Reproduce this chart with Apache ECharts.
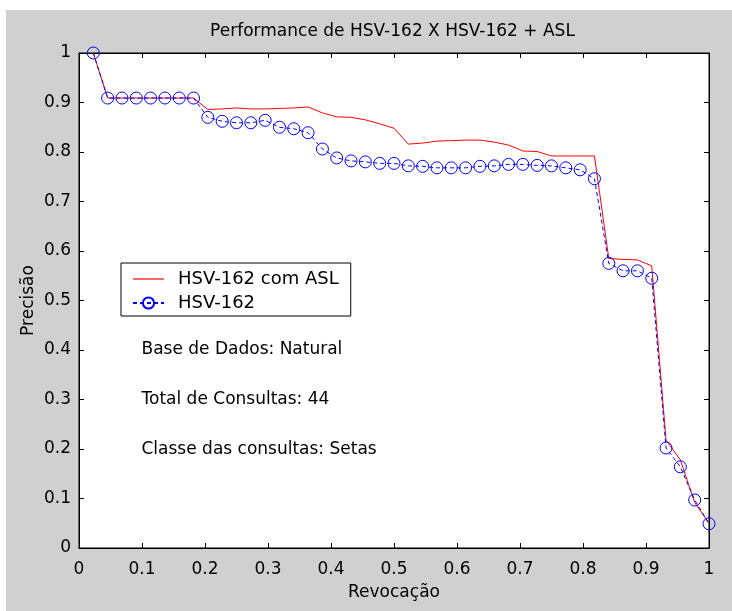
<!DOCTYPE html>
<html>
<head>
<meta charset="utf-8">
<script src="https://cdn.jsdelivr.net/npm/echarts@6/dist/echarts.min.js"></script>
<style>
  html, body { margin: 0; padding: 0; background: #ffffff; }
  #chart { position: absolute; left: 6px; top: 10px; width: 726px; height: 601px; }
</style>
</head>
<body>
<div id="chart"></div>
<script>
// Recall points (Revocação) shared by both curves
const recall = [
  0.0227, 0.0455, 0.0682, 0.0909, 0.1136, 0.1364, 0.1591, 0.1818, 0.2045, 0.2273, 0.25,
  0.2727, 0.2955, 0.3182, 0.3409, 0.3636, 0.3864, 0.4091, 0.4318, 0.4545, 0.4773, 0.5,
  0.5227, 0.5455, 0.5682, 0.5909, 0.6136, 0.6364, 0.6591, 0.6818, 0.7045, 0.7273, 0.75,
  0.7727, 0.7955, 0.8182, 0.8409, 0.8636, 0.8864, 0.9091, 0.9318, 0.9545, 0.9773, 1.0
];
// Precision – HSV-162 com ASL (red solid)
const precisionASL = [
  1.000, 0.909, 0.909, 0.909, 0.909, 0.909, 0.909, 0.909, 0.886, 0.887, 0.889,
  0.887, 0.887, 0.888, 0.889, 0.891, 0.879, 0.871, 0.870, 0.865, 0.857, 0.848,
  0.816, 0.818, 0.822, 0.823, 0.824, 0.824, 0.820, 0.814, 0.802, 0.801, 0.792,
  0.792, 0.792, 0.792, 0.585, 0.583, 0.582, 0.570, 0.218, 0.178, 0.092, 0.050
];
// Precision – HSV-162 (blue dashed with circles)
const precisionHSV = [
  1.000, 0.909, 0.909, 0.909, 0.909, 0.909, 0.909, 0.909, 0.870, 0.862, 0.859,
  0.859, 0.864, 0.850, 0.847, 0.839, 0.806, 0.788, 0.782, 0.780, 0.777, 0.777,
  0.772, 0.771, 0.768, 0.768, 0.768, 0.771, 0.772, 0.775, 0.775, 0.773, 0.772,
  0.768, 0.764, 0.746, 0.575, 0.560, 0.560, 0.545, 0.202, 0.164, 0.097, 0.049
];
const xTickLabels = ['0', '0.1', '0.2', '0.3', '0.4', '0.5', '0.6', '0.7', '0.8', '0.9', '1'];
const yTickLabels = ['0', '0.1', '0.2', '0.3', '0.4', '0.5', '0.6', '0.7', '0.8', '0.9', '1'];
const seriesNames = ['HSV-162 com ASL', 'HSV-162'];
const chartTitle = 'Performance de HSV-162 X HSV-162 + ASL';
const notes = ['Base de Dados: Natural', 'Total de Consultas: 44', 'Classe das consultas: Setas'];

const FONT = "'DejaVu Sans', 'Liberation Sans', sans-serif";
const tickFmtX = v => xTickLabels[Math.round(v * 10)];
const tickFmtY = v => yTickLabels[Math.round(v * 10)];

const pairs = (xs, ys) => xs.map((x, i) => [x, ys[i]]);

const axisCommon = {
  type: 'value', min: 0, max: 1, interval: 0.1,
  axisLine: { show: true, onZero: false, lineStyle: { color: '#000', width: 1 } },
  axisTick: { show: true, inside: true, length: 5, lineStyle: { color: '#000', width: 1 } },
  splitLine: { show: false }
};

const chart = echarts.init(document.getElementById('chart'));
chart.setOption({
  backgroundColor: '#d0d0d0',
  animation: false,
  grid: {
    left: 73, top: 43, right: 23, bottom: 63,
    show: true, backgroundColor: '#ffffff', borderColor: '#000', borderWidth: 1
  },
  xAxis: [
    Object.assign({}, axisCommon, {
      position: 'bottom',
      name: 'Revocação', nameLocation: 'middle', nameGap: 36,
      nameTextStyle: { fontFamily: FONT, fontSize: 17, color: '#000' },
      axisLabel: { formatter: tickFmtX, margin: 13, fontFamily: FONT, fontSize: 17, color: '#000' }
    }),
    Object.assign({}, axisCommon, {
      position: 'top', axisLabel: { show: false }
    })
  ],
  yAxis: [
    Object.assign({}, axisCommon, {
      position: 'left',
      name: 'Precisão', nameLocation: 'middle', nameGap: 42, nameMoveOverlap: false,
      nameTextStyle: { fontFamily: FONT, fontSize: 17, color: '#000' },
      axisLabel: { formatter: tickFmtY, margin: 8, fontFamily: FONT, fontSize: 17, color: '#000' }
    }),
    Object.assign({}, axisCommon, {
      position: 'right', axisLabel: { show: false }
    })
  ],
  legend: {
    left: 115, top: 253, orient: 'vertical',
    backgroundColor: '#ffffff', borderColor: '#000', borderWidth: 1,
    padding: [7, 12, 4, 11],
    itemWidth: 31, itemHeight: 14, itemGap: 6,
    textStyle: { fontFamily: FONT, fontSize: 18, color: '#000', lineHeight: 14, padding: [0, 0, 0, 9] },
    data: [
      { name: seriesNames[0], icon: 'path://M0,0 L31,0 L31,1.2 L0,1.2 Z' },
      { name: seriesNames[1] }
    ]
  },
  graphic: [
    {
      type: 'text', x: 386.5, y: 22, silent: true,
      style: { text: chartTitle, font: '17px ' + FONT, fill: '#000', align: 'center', verticalAlign: 'middle' }
    },
    {
      type: 'text', x: 135.5, y: 340, silent: true,
      style: { text: notes[0], font: '17px ' + FONT, fill: '#000', align: 'left', verticalAlign: 'middle' }
    },
    {
      type: 'text', x: 135.5, y: 390, silent: true,
      style: { text: notes[1], font: '17px ' + FONT, fill: '#000', align: 'left', verticalAlign: 'middle' }
    },
    {
      type: 'text', x: 135.5, y: 440, silent: true,
      style: { text: notes[2], font: '17px ' + FONT, fill: '#000', align: 'left', verticalAlign: 'middle' }
    }
  ],
  series: [
    {
      name: seriesNames[0], type: 'line', data: pairs(recall, precisionASL),
      symbol: 'none', color: '#ff0000',
      lineStyle: { color: '#ff0000', width: 1 }, z: 2
    },
    {
      name: seriesNames[1], type: 'line', data: pairs(recall, precisionHSV),
      symbol: 'circle', symbolSize: 12, showSymbol: true, showAllSymbol: true,
      color: '#0000ff',
      itemStyle: { color: 'rgba(255,255,255,0)', borderColor: '#0000ff', borderWidth: 1 },
      lineStyle: { color: '#0000ff', width: 1, type: [4, 3] }, z: 3
    }
  ]
});
</script>
</body>
</html>
